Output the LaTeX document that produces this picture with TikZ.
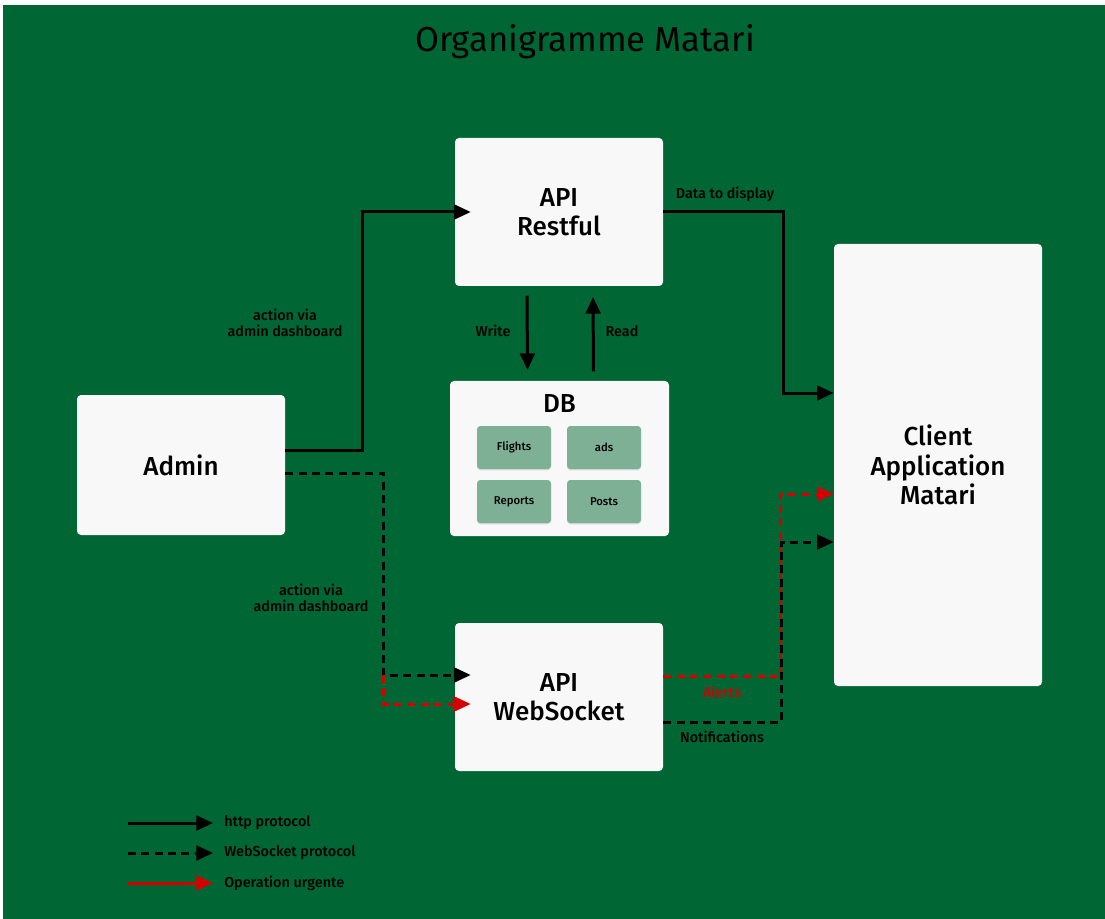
\documentclass[tikz,border=0pt]{standalone}
\usepackage{fontspec}
\setmainfont{Fira Sans}[BoldFont={Fira Sans Medium}]
\usetikzlibrary{arrows.meta,shadows}
\definecolor{bggreen}{RGB}{0,102,51}
\definecolor{boxwhite}{RGB}{248,248,248}
\definecolor{tablegreen}{RGB}{126,176,150}
\definecolor{urgentred}{RGB}{212,0,0}

\begin{document}
\begin{tikzpicture}[x=0.75pt,y=-0.75pt,
  box/.style={fill=boxwhite,rounded corners=3pt,inner sep=0pt,align=center,
    minimum width=156pt,font=\fontsize{19.5}{22}\selectfont\bfseries},
  table/.style={fill=tablegreen,rounded corners=2.5pt,inner sep=0pt,
    minimum width=55.5pt,minimum height=32.25pt,font=\fontsize{8.5}{10}\selectfont\bfseries,
    drop shadow={shadow xshift=0pt,shadow yshift=-1pt,opacity=0.25}},
  lbl/.style={font=\fontsize{10.8}{12}\selectfont\bfseries,align=center,inner sep=0pt},
  http/.style={line width=2.25pt,-{Triangle[length=12.5pt,width=11pt]}},
  ws/.style={http,dash pattern=on 6pt off 4pt},
  urgent/.style={urgentred}]
 \fill[white] (0,0) rectangle (1105,919);
 \fill[bggreen] (3,5) rectangle (1105,919);
 \node[font=\fontsize{26}{29}\selectfont] (title) at (585,42) {Organigramme Matari};

 % boxes
 \node[box,minimum height=111pt] (restful) at (559,212) {API\\Restful};
 \node[box,minimum height=111pt] (websocket) at (559,697) {API\\WebSocket};
 \node[box,minimum height=105pt] (admin) at (181,465) {Admin};
 \node[box,minimum height=331.5pt] (client) at (938,465) {Client\\Application\\Matari};
 \node[box,minimum width=164.25pt,minimum height=116.25pt] (db) at (559.5,458.5) {};
 \node[font=\fontsize{19.5}{22}\selectfont\bfseries] (dbtitle) at (559.5,404) {DB};
 \node[table] (flights) at (514,447.5) {Flights};
 \node[table] (ads) at (604,447.5) {ads};
 \node[table] (reports) at (514,501.5) {Reports};
 \node[table] (posts) at (604,501.5) {Posts};

 % http
 \draw[http] ([yshift=11.25pt]admin.east) -- ++(77,0) |- ([xshift=12pt]restful.west);
 \draw[http] (restful.east) -- ++(120,0) |- ([yshift=54pt]client.west);
 \draw[http] ([xshift=-24pt,yshift=-7pt]restful.south) -- ([xshift=-24pt,yshift=8pt]db.north);
 \draw[http] ([xshift=25.5pt,yshift=7pt]db.north) -- ([xshift=25.5pt,yshift=-8pt]restful.south);
 \node[lbl] (lbladmin1) at (285,323) {action via\\admin dashboard};
 \node[lbl] (lbldata) at (725,194) {Data to display};
 \node[lbl] (lblwrite) at (493,331) {Write};
 \node[lbl] (lblread) at (622,331) {Read};

 % websocket
 \draw[ws] ([yshift=-6pt]admin.east) -- ++(98,0) |- coordinate[pos=.5] (split) ([xshift=12pt,yshift=16.5pt]websocket.west);
 \draw[ws,urgent] (split) |- ([xshift=12pt,yshift=-5.25pt]websocket.west);
 \draw[ws,urgent] ([yshift=15.75pt]websocket.east) -- ++(117,0) |- ([yshift=-21.75pt]client.west);
 \draw[ws] ([yshift=-18.75pt]websocket.east) -- ++(118,0) |- ([yshift=-57.75pt]client.west);
 \node[lbl] (lbladmin2) at (311,598) {action via\\admin dashboard};
 \node[lbl,urgentred] (lblalerts) at (722,692) {Alerts};
 \node[lbl] (lblnotif) at (722,737) {Notifications};

 % legend
 \node[lbl,anchor=west] (lhttp) at (224,823) {http protocol};
 \node[lbl,anchor=west] (lws) at (224,853) {WebSocket protocol};
 \node[lbl,anchor=west] (lurgent) at (224,883) {Operation urgente};
 \draw[http] ([xshift=-72pt]lhttp.west) -- ([xshift=-8.25pt]lhttp.west);
 \draw[ws] ([xshift=-72pt]lws.west) -- ([xshift=-8.25pt]lws.west);
 \draw[http,urgent] ([xshift=-72pt]lurgent.west) -- ([xshift=-8.25pt]lurgent.west);
\end{tikzpicture}
\end{document}
